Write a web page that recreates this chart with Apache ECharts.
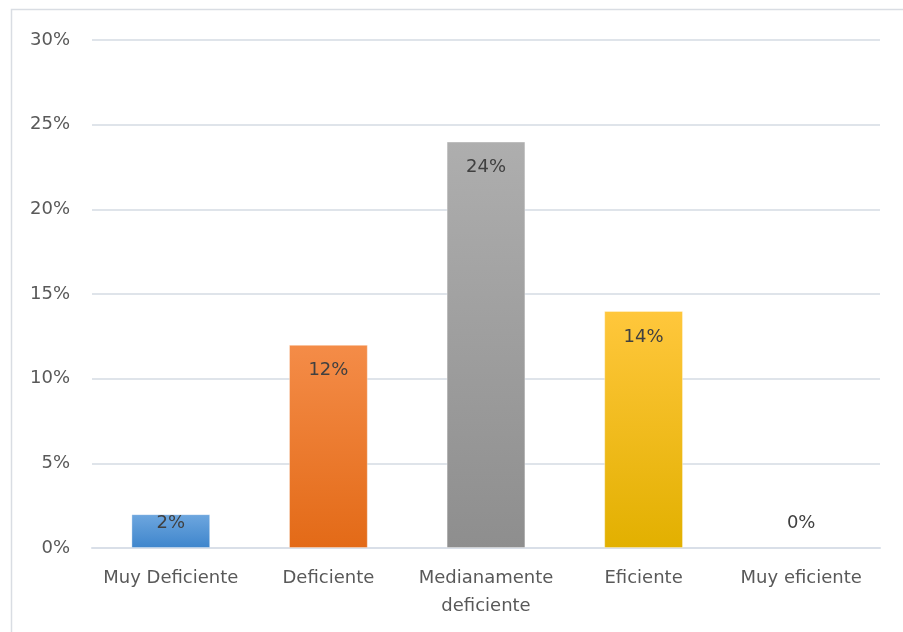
<!DOCTYPE html>
<html>
<head>
<meta charset="utf-8">
<script src="https://cdn.jsdelivr.net/npm/echarts@6/dist/echarts.min.js"></script>
<style>
  html, body { margin: 0; padding: 0; background: #fff; }
  #chart { width: 903px; height: 632px; }
</style>
</head>
<body>
<div id="chart"></div>
<script>
// Rating categories and their share of responses (%)
const categories = ['Muy Deficiente', 'Deficiente', 'Medianamente\ndeficiente', 'Eficiente', 'Muy eficiente'];
const values = [2, 12, 24, 14, 0];
const yTicks = [0, 5, 10, 15, 20, 25, 30];

// Per-bar vertical gradients: [top, bottom]
const barGradients = [
  ['#6ea7df', '#3e85cc'],
  ['#f48c48', '#e36a17'],
  ['#aeaeae', '#8e8e8e'],
  ['#ffc73c', '#e2b000'],
  ['#cfcfcf', '#bdbdbd']
];

const FONT = '"DejaVu Sans", sans-serif';

const chart = echarts.init(document.getElementById('chart'), null, { renderer: 'canvas' });

const seriesData = values.map((v, i) => {
  const small = v < 5;
  return {
    value: v,
    itemStyle: {
      color: new echarts.graphic.LinearGradient(0, 0, 0, 1, [
        { offset: 0, color: barGradients[i][0] },
        { offset: 1, color: barGradients[i][1] }
      ]),
      borderColor: 'rgba(255,255,255,0.35)',
      borderWidth: v > 0 ? 1 : 0
    },
    label: small
      ? { position: 'insideBottom', distance: 16 }
      : { position: 'insideTop', distance: 17 }
  };
});

chart.setOption({
  animation: false,
  backgroundColor: '#ffffff',
  graphic: [{
    type: 'rect',
    shape: { x: 11.5, y: 9.5, width: 1000, height: 1000 },
    style: { fill: 'none', stroke: '#d9dde3', lineWidth: 1.5 },
    silent: true
  }],
  grid: { left: 92, right: 23, top: 40, bottom: 84, containLabel: false },
  xAxis: {
    type: 'category',
    data: categories,
    axisLine: { show: true, lineStyle: { color: '#d9dfe8', width: 2 } },
    axisTick: { show: false },
    axisLabel: {
      color: '#595959',
      fontFamily: FONT,
      fontSize: 18,
      lineHeight: 28,
      margin: 16,
      interval: 0
    }
  },
  yAxis: {
    type: 'value',
    min: yTicks[0],
    max: yTicks[yTicks.length - 1],
    interval: yTicks[1] - yTicks[0],
    axisLine: { show: false },
    axisTick: { show: false },
    splitLine: { lineStyle: { color: '#dfe4ea', width: 2 } },
    axisLabel: {
      color: '#595959',
      fontFamily: FONT,
      fontSize: 18,
      margin: 22,
      formatter: v => v + '%'
    }
  },
  series: [{
    type: 'bar',
    data: seriesData,
    barWidth: '50%',
    label: {
      show: true,
      color: '#404040',
      fontFamily: FONT,
      fontSize: 18,
      formatter: p => p.value + '%'
    }
  }]
});
</script>
</body>
</html>
